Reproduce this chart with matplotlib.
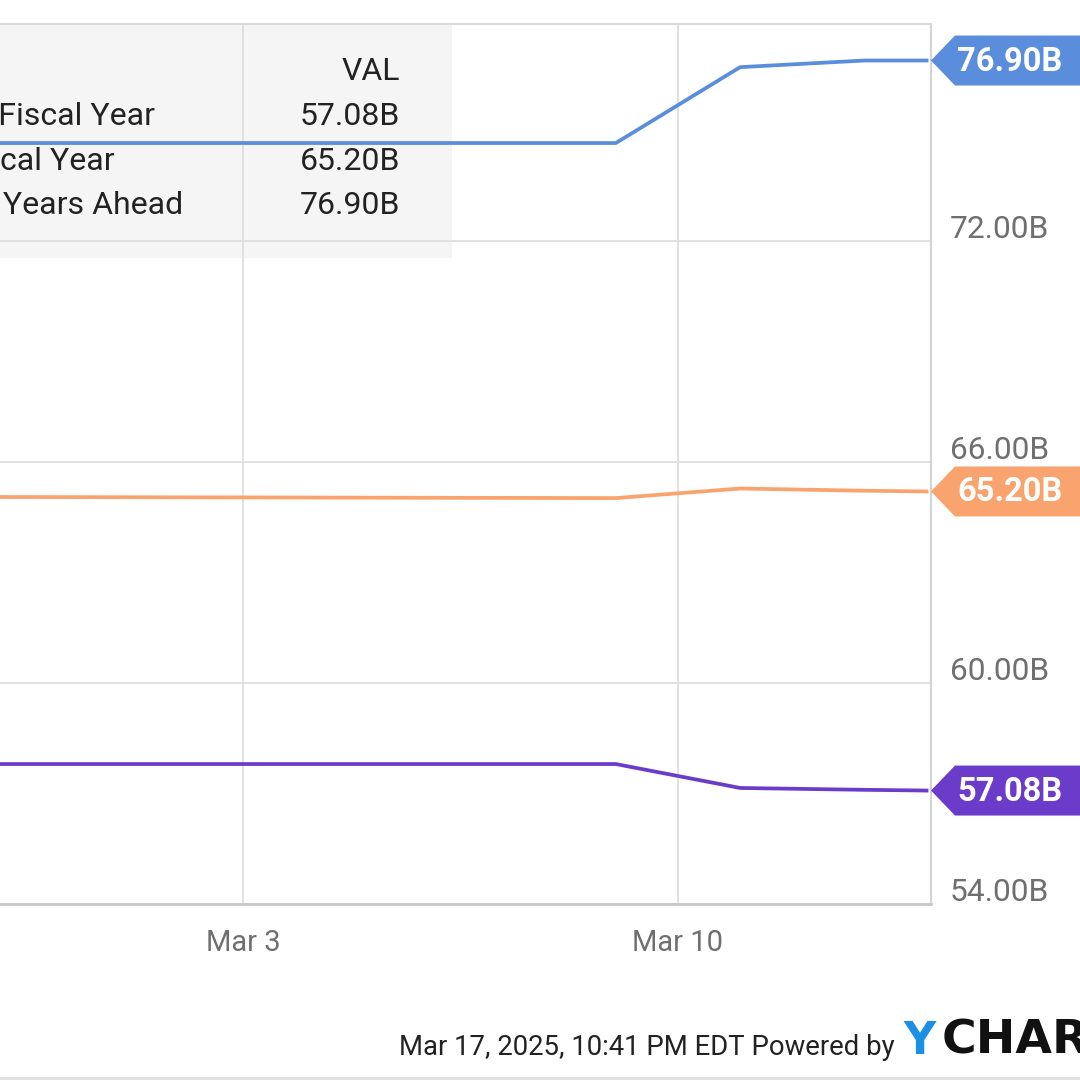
import matplotlib
matplotlib.use("Agg")
import matplotlib.pyplot as plt
import matplotlib.dates as mdates
from matplotlib.patches import Polygon, Rectangle
import datetime as dt

plt.rcParams['font.family'] = ['Roboto', 'DejaVu Sans']

# ---- data ----
dates = ['2025-02-27', '2025-03-09', '2025-03-11', '2025-03-13', '2025-03-14']
series_names = ['Revenue Estimates for Current Fiscal Year',
                'Revenue Estimates for Next Fiscal Year',
                'Revenue Estimates for 2 Fiscal Years Ahead']
current_fy = [57.80, 57.80, 57.15, 57.10, 57.08]
next_fy = [65.05, 65.02, 65.28, 65.22, 65.20]
two_fy = [74.66, 74.66, 76.72, 76.90, 76.90]
last_vals = ['57.08B', '65.20B', '76.90B']
y_ticks = [54, 60, 66, 72]
x_ticks = ['2025-03-03', '2025-03-10']
x_tick_labels = ['Mar 3', 'Mar 10']
footer = 'Mar 17, 2025, 10:41 PM EDT Powered by'
logo_first = 'Y'
logo_rest = 'CHARTS'

colors = ['#6a3cc9', '#f9a46e', '#5a8ddb']

W = H = 1080
fig = plt.figure(figsize=(10.8, 10.8), dpi=100)
fig.patch.set_facecolor('white')

# axes placement in pixels
L, R, T, B = 0, 931, 24, 904
ax = fig.add_axes([L / W, 1 - B / H, (R - L) / W, (B - T) / H])

x = [mdates.date2num(dt.datetime.fromisoformat(d)) for d in dates]
mar3 = mdates.date2num(dt.datetime(2025, 3, 3))
mar10 = mdates.date2num(dt.datetime(2025, 3, 10))
ppd = (678 - 243) / 7.0
ax.set_xlim(mar3 - 243 / ppd, mar10 + (931 - 678) / ppd)
ppb = (684 - 242) / 12.0
ax.set_ylim(54, 54 + (904 - 24) / ppb)

for vals, c in zip([current_fy, next_fy, two_fy], colors):
    ax.plot(x, vals, color=c, lw=2.7, zorder=3, solid_joinstyle='round')

ax.set_yticks(y_ticks)
ax.set_xticks([mdates.date2num(dt.datetime.fromisoformat(d)) for d in x_ticks])
ax.set_xticklabels(x_tick_labels)
ax.grid(True, color='#dedede', lw=1.3)
ax.set_axisbelow(True)
ax.tick_params(axis='both', length=0, labelsize=21, colors='#6f6f6f')
ax.tick_params(axis='x', pad=18)
ax.yaxis.tick_right()
ax.set_yticklabels([])
ax.spines['left'].set_visible(False)
ax.spines['right'].set_color('#cfcfcf')
ax.spines['top'].set_color('#d6d6d6')
ax.spines['bottom'].set_color('#c8c8c8')
ax.spines['bottom'].set_linewidth(2.0)
ax.spines['right'].set_linewidth(1.3)
ax.spines['top'].set_linewidth(1.3)

# y tick labels (sitting just above their gridline, as in reference)
for v in y_ticks:
    ax.annotate(f'{v:.2f}B', xy=(1, v), xycoords=('axes fraction', 'data'),
                xytext=(19, 3), textcoords='offset pixels', ha='left', va='baseline',
                fontsize=22.8, color='#6f6f6f', annotation_clip=False)

# legend box (behind gridlines and lines)
ax.add_patch(Rectangle((0, 1 - 258 / H), 452 / W, (258 - 24) / H,
                       transform=fig.transFigure, facecolor='#f5f5f5',
                       edgecolor='none', zorder=0.2, clip_on=False))
fig.text(400 / W, 1 - 80 / H, 'VAL', ha='right', va='baseline', fontsize=23, color='#222222')
name_ends = [155, 115, 183]
row_base = [125, 170, 214]
for name, xe, yy, val in zip(series_names, name_ends, row_base, last_vals):
    fig.text(xe / W, 1 - yy / H, name, ha='right', va='baseline', fontsize=23, color='#222222')
    fig.text(400 / W, 1 - yy / H, val, ha='right', va='baseline', fontsize=23, color='#222222')

# right side value flags
fig.canvas.draw()
for vals, c, lab in zip([current_fy, next_fy, two_fy], colors, last_vals):
    px, py = ax.transData.transform((ax.get_xlim()[1], vals[-1]))
    h = 25
    poly = Polygon([(px, py), (px + 24, py + h), (W + 10, py + h), (W + 10, py - h), (px + 24, py - h)],
                   closed=True, transform=None, facecolor=c, edgecolor='none', zorder=5)
    fig.patches.append(poly)
    fig.text(957 / W, (py - 1) / H, lab, ha='left', va='center', fontsize=23.5, color='white',
             fontweight='bold', zorder=6)

# footer
fig.text(895 / W, 1 - 1055 / H, footer, ha='right', va='baseline', fontsize=19.8,
         color='#222222')
fig.text(903 / W, 1 - 1054 / H, logo_first, ha='left', va='baseline', fontsize=32,
         color='#1a8fe3', fontweight='bold', family=['DejaVu Sans'])
fig.text(942 / W, 1 - 1054 / H, logo_rest, ha='left', va='baseline', fontsize=34,
         color='#111111', fontweight='bold', family=['DejaVu Sans'])

# figure bottom border
fig.patches.append(Rectangle((0, 0), 1, 3 / H, transform=fig.transFigure,
                             facecolor='#e0e0e0', edgecolor='none'))

fig.savefig('out.png', dpi=100)
